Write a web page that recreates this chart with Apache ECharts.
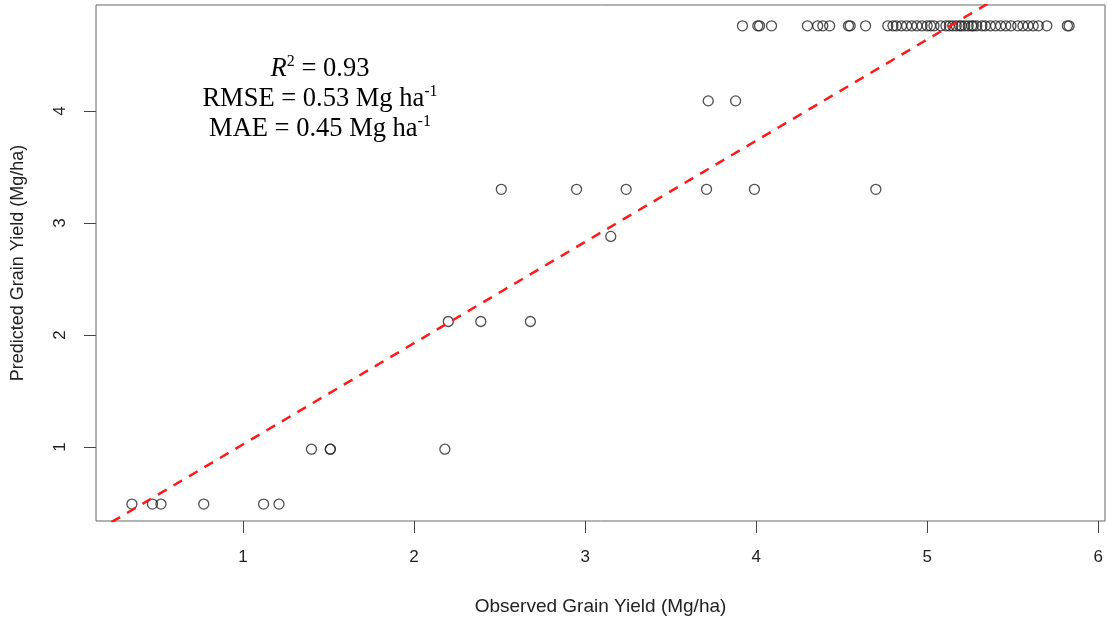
<!DOCTYPE html>
<html>
<head>
<meta charset="utf-8">
<script src="https://cdn.jsdelivr.net/npm/echarts@6/dist/echarts.min.js"></script>
<style>html,body{margin:0;padding:0;background:#fff}#c{width:1107px;height:622px}</style>
</head>
<body>
<div id="c"></div>
<script>
// Observed (x) and predicted (y) grain yield, Mg/ha
const observed = [
  0.35, 0.47, 0.52, 0.77, 1.12, 1.21,
  1.40, 1.51, 1.51, 2.18,
  2.20, 2.39, 2.68,
  3.15,
  2.51, 2.95, 3.24, 3.71, 3.99, 4.70,
  3.72, 3.88,
  3.92, 4.01, 4.02, 4.09, 4.30, 4.36, 4.39, 4.43, 4.54, 4.55, 4.64,
  4.77, 4.80, 4.82, 4.85, 4.88, 4.91, 4.94, 4.97, 5.00, 5.02, 5.04,
  5.08, 5.11, 5.13, 5.15, 5.17, 5.19, 5.20, 5.22, 5.24, 5.26, 5.27, 5.29,
  5.32, 5.34, 5.37, 5.40, 5.43, 5.46, 5.49, 5.53, 5.56, 5.59, 5.62, 5.65,
  5.70, 5.82, 5.83
];
const predicted = [
  0.49, 0.49, 0.49, 0.49, 0.49, 0.49,
  0.98, 0.98, 0.98, 0.98,
  2.12, 2.12, 2.12,
  2.88,
  3.30, 3.30, 3.30, 3.30, 3.30, 3.30,
  4.09, 4.09,
  4.76, 4.76, 4.76, 4.76, 4.76, 4.76, 4.76, 4.76, 4.76, 4.76, 4.76,
  4.76, 4.76, 4.76, 4.76, 4.76, 4.76, 4.76, 4.76, 4.76, 4.76, 4.76,
  4.76, 4.76, 4.76, 4.76, 4.76, 4.76, 4.76, 4.76, 4.76, 4.76, 4.76, 4.76,
  4.76, 4.76, 4.76, 4.76, 4.76, 4.76, 4.76, 4.76, 4.76, 4.76, 4.76, 4.76,
  4.76, 4.76, 4.76
];
// fitted line (red dashed)
const fitIntercept = 0.12;
const fitSlope = 0.9036;
const xTicks = [1, 2, 3, 4, 5, 6];
const yTicks = [1, 2, 3, 4];
const xRange = [0.14, 6.04];
const yRange = [0.339, 4.946];

const pts = observed.map((v, i) => [v, predicted[i]]);
const fitPts = xRange.map(x => [x, fitIntercept + fitSlope * x]);

const chart = echarts.init(document.getElementById('c'), null, {renderer: 'canvas'});
const axisFont = {fontFamily: 'Liberation Sans, Arial, sans-serif', fontSize: 17, color: '#222'};
const serif = 'Liberation Serif, Times New Roman, serif';
chart.setOption({
  animation: false,
  grid: {left: 96, top: 5, right: 2, bottom: 101, outerBoundsMode: 'none', containLabel: false,
         show: true, borderColor: '#666', borderWidth: 1, backgroundColor: 'transparent'},
  xAxis: {
    type: 'value', min: xRange[0], max: xRange[1],
    name: 'Observed Grain Yield (Mg/ha)', nameLocation: 'middle', nameGap: 76,
    nameTextStyle: Object.assign({}, axisFont, {fontSize: 19}),
    axisLine: {show: false},
    axisTick: {show: true, length: 12, inside: false, customValues: xTicks, lineStyle: {color: '#444', width: 1}},
    axisLabel: Object.assign({customValues: xTicks, margin: 28}, axisFont),
    splitLine: {show: false}
  },
  yAxis: {
    type: 'value', min: yRange[0], max: yRange[1],
    name: 'Predicted Grain Yield (Mg/ha)', nameLocation: 'middle', nameGap: 69, nameRotate: 90,
    nameTextStyle: Object.assign({}, axisFont, {fontSize: 18}),
    axisLine: {show: false},
    axisTick: {show: true, length: 12, inside: false, customValues: yTicks, lineStyle: {color: '#444', width: 1}},
    axisLabel: Object.assign({customValues: yTicks, margin: 27, rotate: 90}, axisFont),
    splitLine: {show: false}
  },
  series: [
    {
      type: 'scatter', data: pts, symbol: 'circle', symbolSize: 10,
      itemStyle: {color: 'rgba(0,0,0,0)', borderColor: '#222', borderWidth: 1.3},
      z: 2
    },
    {
      type: 'line', data: fitPts, symbol: 'none', clip: true,
      lineStyle: {color: '#ff1a1a', width: 2.5, type: [10, 8]},
      z: 3
    }
  ],
  graphic: [{
    type: 'text', x: 320, y: 54,
    style: {
      text: '{i|R}{s|2}{n| = 0.93}\n{n|RMSE = 0.53 Mg ha}{s|-1}\n{n|MAE = 0.45 Mg ha}{s|-1}',
      align: 'center', verticalAlign: 'top',
      fontFamily: serif,
      rich: {
        n: {fontFamily: serif, fontSize: 26.5, lineHeight: 30, fill: '#000'},
        i: {fontFamily: serif, fontSize: 26.5, fontStyle: 'italic', lineHeight: 30, fill: '#000'},
        s: {fontFamily: serif, fontSize: 16, lineHeight: 30, verticalAlign: 'top', padding: [0, 0, 10, 0], fill: '#000'}
      }
    }
  }]
});
</script>
</body>
</html>
